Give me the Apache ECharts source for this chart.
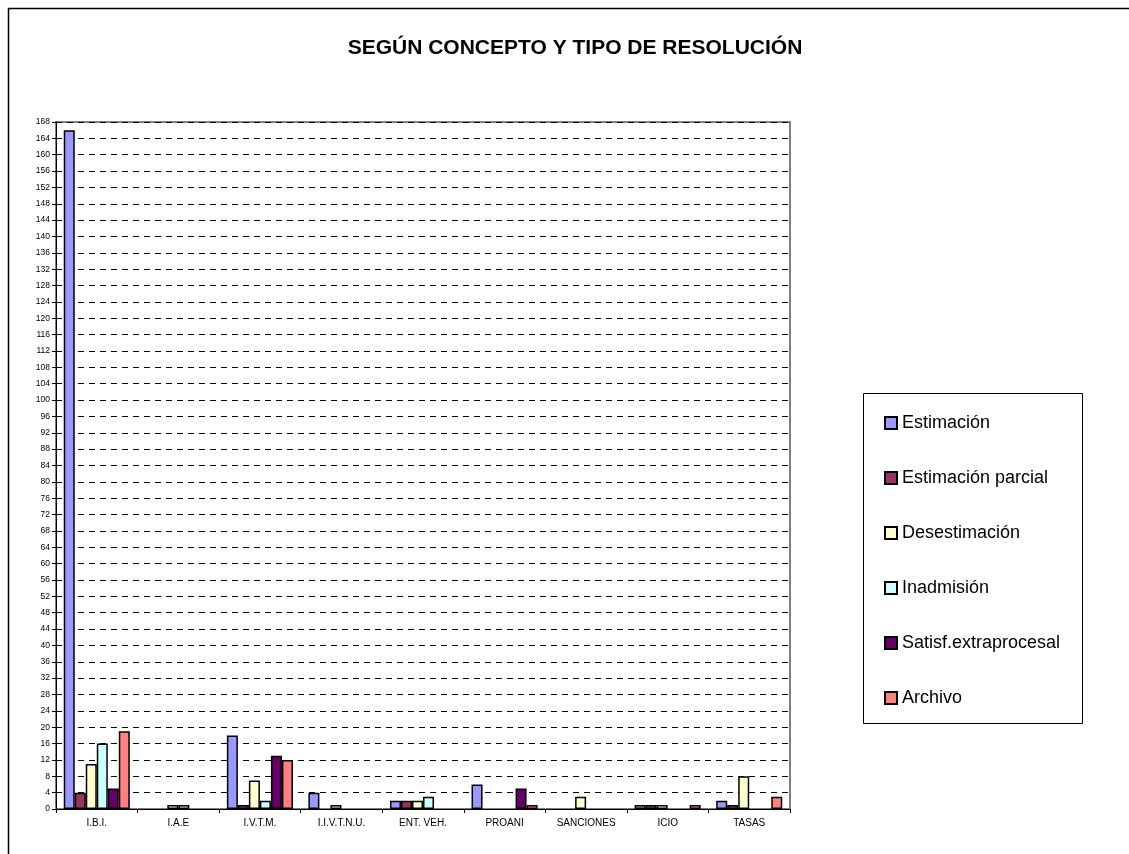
<!DOCTYPE html>
<html>
<head>
<meta charset="utf-8">
<title>Según concepto y tipo de resolución</title>
<script src="https://cdn.jsdelivr.net/npm/echarts@6/dist/echarts.min.js"></script>
<style>
html,body{margin:0;padding:0;background:#fff;}
#main{width:1129px;height:854px;}
</style>
</head>
<body>
<div id="main"></div>
<script>
// datos
var conceptos = ['I.B.I.', 'I.A.E', 'I.V.T.M.', 'I.I.V.T.N.U.', 'ENT. VEH.', 'PROANI', 'SANCIONES', 'ICIO', 'TASAS'];
var estimacion =        [166, 0, 18, 4, 2, 6, 0, 1, 2];
var estimacionParcial = [4, 0, 1, 0, 2, 0, 0, 1, 1];
var desestimacion =     [11, 1, 7, 1, 2, 0, 3, 1, 8];
var inadmision =        [16, 1, 2, 0, 3, 0, 0, 0, 0];
var satisfExtra =       [5, 0, 13, 0, 0, 5, 0, 0, 0];
var archivo =           [19, 0, 12, 0, 0, 1, 0, 1, 3];

var nombres = ['Estimación', 'Estimación parcial', 'Desestimación', 'Inadmisión', 'Satisf.extraprocesal', 'Archivo'];
var valores = [estimacion, estimacionParcial, desestimacion, inadmision, satisfExtra, archivo];
var colores = ['#9999FF', '#993366', '#FFFFCC', '#CCFFFF', '#660066', '#FF8080'];

var fuente = "'Liberation Sans', Arial, sans-serif";

var series = [];
for (var i = 0; i < nombres.length; i++) {
	series.push({
		name: nombres[i],
		type: 'bar',
		// las barras a cero no se dibujan
		data: valores[i].map(function(v){ return v === 0 ? null : v; }),
		barGap: '0%',
		barCategoryGap: '19%',
		itemStyle: {
			color: colores[i],
			borderColor: '#000',
			borderWidth: 1.5
		}
	});
}

var myChart = echarts.init(document.getElementById('main'));

var option = {
	animation: false,
	backgroundColor: '#fff',
	title: {
		text: 'SEGÚN CONCEPTO Y TIPO DE RESOLUCIÓN',
		left: 570,
		top: 33,
		textAlign: 'center',
		textStyle: {
			fontFamily: fuente,
			fontSize: 21,
			fontWeight: 'bold',
			color: '#000'
		}
	},
	graphic: [
		{
			type: 'rect',
			shape: { x: 8.5, y: 8.5, width: 1200, height: 1000 },
			style: { fill: 'none', stroke: '#000', lineWidth: 1.5 },
			silent: true
		},
		{
			type: 'rect',
			shape: { x: 863.5, y: 393.5, width: 219, height: 330 },
			style: { fill: '#fff', stroke: '#000', lineWidth: 1 },
			z: 0,
			silent: true
		}
	],
	legend: {
		orient: 'vertical',
		left: 884,
		top: 414,
		padding: 0,
		itemWidth: 12,
		itemHeight: 12,
		itemGap: 37,
		icon: 'rect',
		z: 10,
		itemStyle: { borderColor: '#000', borderWidth: 2 },
		textStyle: {
			fontFamily: fuente,
			fontSize: 18,
			lineHeight: 18,
			color: '#000'
		},
		data: nombres
	},
	grid: {
		left: 56,
		right: 339,
		top: 122,
		bottom: 45,
		show: true,
		borderColor: '#808080',
		borderWidth: 2,
		backgroundColor: '#fff'
	},
	xAxis: {
		type: 'category',
		data: conceptos,
		axisLine: { lineStyle: { color: '#000', width: 1 } },
		axisTick: { show: true, length: 4, lineStyle: { color: '#000' } },
		axisLabel: {
			fontFamily: fuente,
			fontSize: 10,
			color: '#000',
			margin: 9
		}
	},
	yAxis: {
		type: 'value',
		min: 0,
		max: 168,
		interval: 4,
		axisLine: { show: true, lineStyle: { color: '#000', width: 1 } },
		axisTick: { show: true, length: 4, lineStyle: { color: '#000' } },
		axisLabel: {
			fontFamily: fuente,
			fontSize: 8.5,
			color: '#000',
			margin: 6
		},
		splitLine: {
			show: true,
			lineStyle: { color: '#000', width: 1, type: [6, 5] }
		}
	},
	series: series
};

myChart.setOption(option);
</script>
</body>
</html>
